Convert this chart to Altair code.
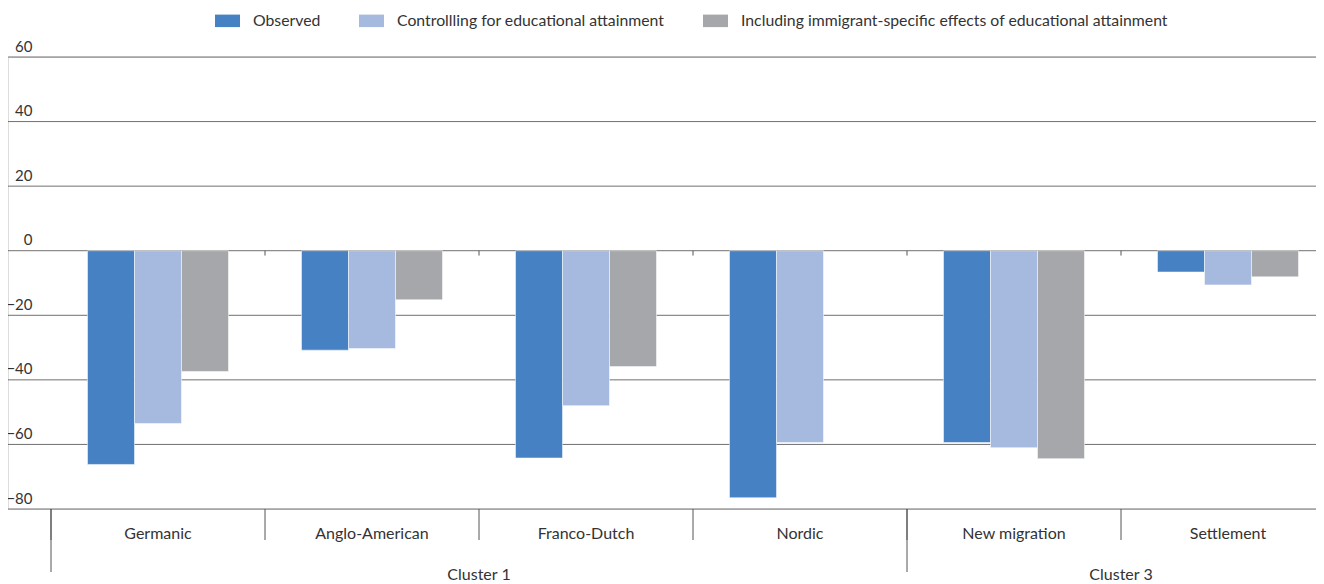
import altair as alt
import pandas as pd

categories = ["Germanic", "Anglo-American", "Franco-Dutch", "Nordic", "New migration", "Settlement"]
series_names = [
    "Observed",
    "Controllling for educational attainment",
    "Including immigrant-specific effects of educational attainment",
]
observed = [-66.2, -30.8, -64.2, -76.5, -59.4, -6.6]
controlling = [-53.5, -30.3, -48.0, -59.4, -61.0, -10.6]
including = [-37.4, -15.2, -35.9, None, -64.4, -8.1]
colors = ["#4581c3", "#a6bae0", "#a6a7ab"]
y_ticks = [-80, -60, -40, -20, 0, 20, 40, 60]
cluster_names = ["Cluster 1", "Cluster 3"]
cluster_first = ["Germanic", "New migration"]
cluster_center_anchor = ["Franco-Dutch", "Settlement"]

rows = []
for i, c in enumerate(categories):
    for s, vals in zip(series_names, [observed, controlling, including]):
        if vals[i] is not None:
            rows.append({"category": c, "series": s, "value": vals[i]})
df = pd.DataFrame(rows)

FONT = "Lato"
TXT = "#333333"
W, H = 1308, 452

x_scale = alt.Scale(domain=categories, range=[43, 1327], paddingInner=0, paddingOuter=0)
y_scale = alt.Scale(domain=[-80, 60], nice=False, zero=False)
x_axis = alt.Axis(title=None, labelAngle=0, ticks=False, tickSize=0, domain=False, grid=False,
                  labelPadding=24, labelBaseline="middle", labelFontSize=16,
                  labelFont=FONT, labelColor=TXT)
y_axis = alt.Axis(title=None, values=y_ticks, grid=False,
                  domain=False, ticks=False, tickSize=0, labelAlign="right",
                  labelPadding=-24, labelBaseline="alphabetic", labelOffset=-6,
                  labelFontSize=15, labelFont=FONT, labelColor=TXT)

grid = alt.Chart(pd.DataFrame({"tick": y_ticks})).mark_rule(color="#707070", strokeWidth=1).encode(
    y=alt.Y("tick:Q", scale=y_scale, axis=y_axis),
    x=alt.value(0),
    x2=alt.value(W),
)

bars = alt.Chart(df).mark_bar(stroke="white", strokeWidth=1, strokeOpacity=0.5).encode(
    x=alt.X("category:N", sort=categories, scale=x_scale, axis=x_axis),
    xOffset=alt.XOffset("series:N", sort=series_names,
                        scale=alt.Scale(domain=series_names, paddingInner=0, paddingOuter=0.7766)),
    y=alt.Y("value:Q", scale=y_scale, axis=y_axis),
    color=alt.Color("series:N", sort=series_names,
                    scale=alt.Scale(domain=series_names, range=colors),
                    legend=alt.Legend(orient="none", legendX=207, legendY=-49, direction="horizontal",
                                      title=None, symbolType="M-1,-0.5H1V0.5H-1Z", symbolSize=625,
                                      symbolStrokeWidth=0, labelFontSize=15.8, labelFont=FONT,
                                      labelColor=TXT, labelOffset=13, columnPadding=38, padding=0,
                                      labelLimit=600)),
)

zero_ticks = alt.Chart(pd.DataFrame({"category": categories[1:]})).mark_rule(color="#555555", strokeWidth=1).encode(
    x=alt.X("category:N", bandPosition=0, scale=x_scale, axis=x_axis),
    y=alt.Y(datum=0, scale=y_scale, axis=y_axis),
    y2=alt.Y2(datum=-1.5),
)

seps = alt.Chart(pd.DataFrame({"category": categories})).mark_rule(color="#555555", strokeWidth=1).encode(
    x=alt.X("category:N", bandPosition=0, scale=x_scale, axis=x_axis),
    y=alt.value(H),
    y2=alt.value(H + 31),
)

long_seps = alt.Chart(pd.DataFrame({"category": cluster_first})).mark_rule(color="#555555", strokeWidth=1).encode(
    x=alt.X("category:N", bandPosition=0, scale=x_scale, axis=x_axis),
    y=alt.value(H),
    y2=alt.value(H + 63),
)

cluster_text = alt.Chart(pd.DataFrame({"category": cluster_center_anchor, "cluster": cluster_names})).mark_text(
    font=FONT, fontSize=16, color=TXT, align="center", baseline="middle"
).encode(
    x=alt.X("category:N", bandPosition=0, scale=x_scale, axis=x_axis),
    y=alt.value(H + 66),
    text="cluster:N",
)

chart = alt.layer(grid, bars, zero_ticks, seps, long_seps, cluster_text).properties(
    width=W, height=H,
    autosize=alt.AutoSizeParams(type="none"),
    padding={"left": 0, "top": 49, "right": 0, "bottom": 78},
).configure_view(stroke=None).configure(background="white")

chart.save("out.html", embed_options={"renderer": "svg", "actions": False})
